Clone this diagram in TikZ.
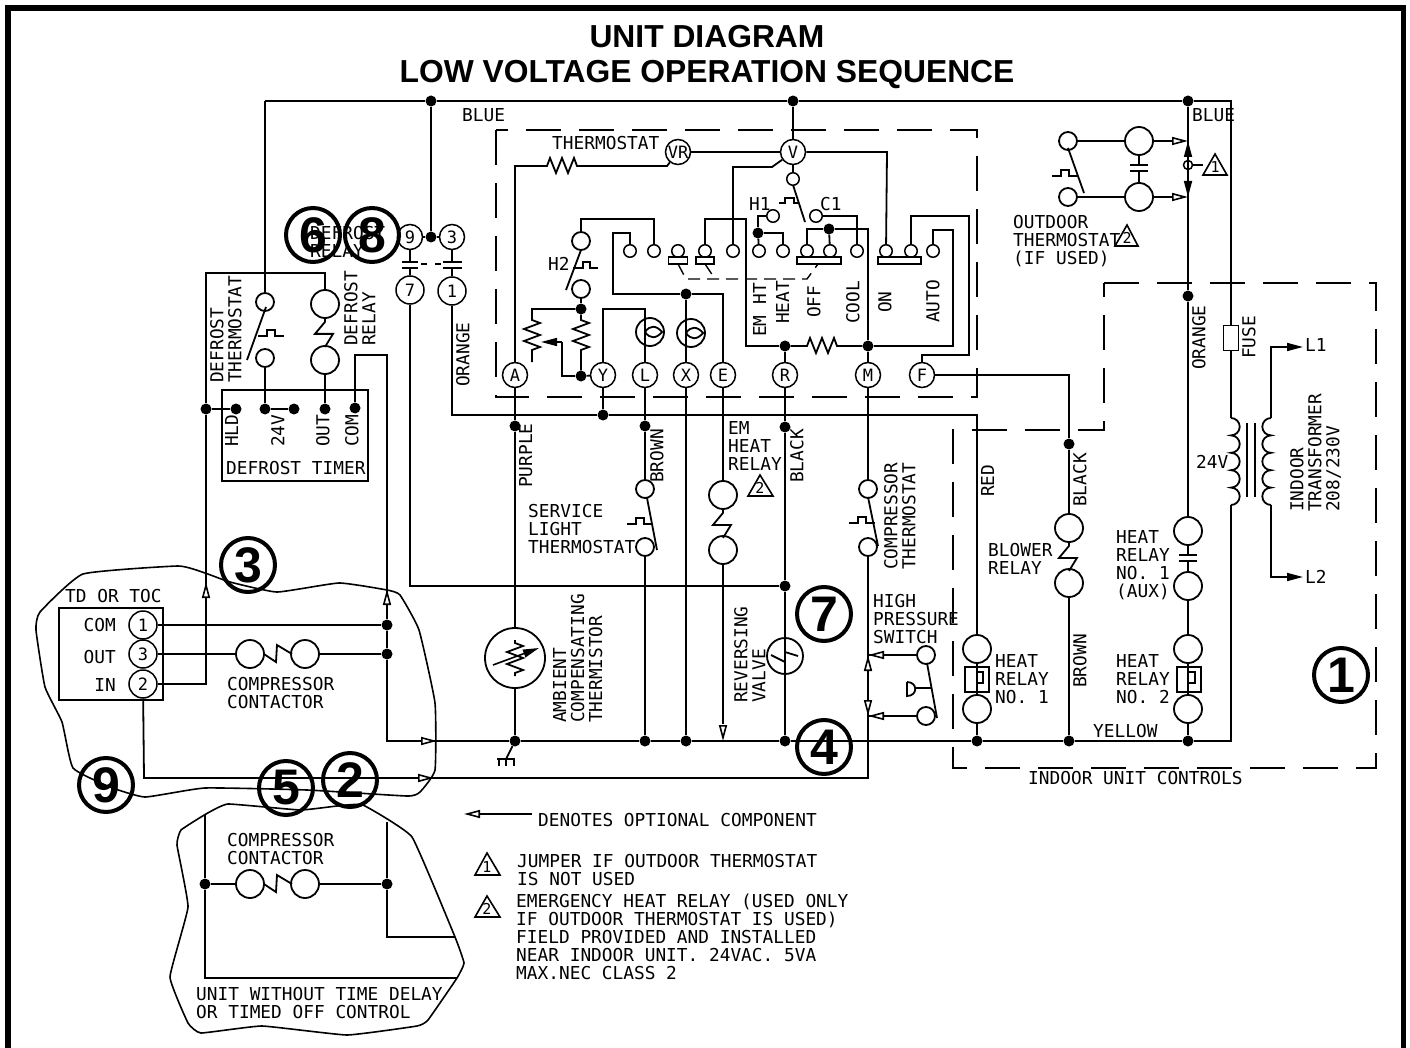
\documentclass[tikz,border=0pt]{standalone}
\usepackage{fontspec}
\usepackage{xcolor}
\usepackage{tikz}
\usetikzlibrary{arrows.meta}
\setmainfont{Liberation Sans}
\newfontfamily\cadfont{DejaVu Sans Mono}

\newcommand{\reszigh}{-- ++(3,-8) -- ++(6,15) -- ++(6,-15) -- ++(6,15) -- ++(6,-15) -- ++(3,8)}
\newcommand{\reszigv}{-- ++(8,3) -- ++(-16,6) -- ++(16,6) -- ++(-16,6) -- ++(16,6) -- ++(-8,3)}
\newcommand{\relayzig}{-- ++(0,3) -- ++(-10,12) -- ++(18,0) -- ++(-8,13)}
\newcommand{\thermstep}{-- ++(9,0) -- ++(0,-6) -- ++(8,0) -- ++(0,6) -- ++(9,0)}

\tikzset{
	wire/.style={line width=1.8pt},
	dashbox/.style={line width=1.6pt,dash pattern=on 35pt off 18pt},
	linkdash/.style={line width=1.4pt,dash pattern=on 12pt off 7pt},
	cloud/.style={line width=1.6pt},
	term/.style={circle,draw,line width=1.5pt,fill=white,minimum size=25pt,inner sep=0pt,font=\cadfont\fontsize{17}{17}\selectfont},
	coil/.style={circle,draw,line width=1.8pt,fill=white,minimum size=28pt,inner sep=0pt},
	contact/.style={circle,draw,line width=1.8pt,fill=white,minimum size=18pt,inner sep=0pt},
	small/.style={circle,draw,line width=1.5pt,fill=white,minimum size=12.5pt,inner sep=0pt},
	dot/.style={circle,fill=black,minimum size=11pt,inner sep=0pt},
	bar/.style={rectangle,draw,line width=1.6pt,fill=white,inner sep=0pt},
	lbl/.style={anchor=north west,align=left,inner sep=0pt,font=\cadfont\fontsize{17.8}{18}\selectfont},
	vlbl/.style={lbl,rotate=90},
	num/.style={circle,draw,line width=4pt,minimum size=54pt,inner sep=0pt,font=\bfseries\fontsize{50}{50}\selectfont},
	tridigit/.style={inner sep=0pt,font=\cadfont\fontsize{15}{15}\selectfont},
	opentip/.style={line width=1.6pt,-{Triangle[open,fill=white,length=16pt,width=8pt]}},
	solidtip/.style={line width=1.6pt,-{Triangle[length=16pt,width=8pt]}}
}

\begin{document}
\begin{tikzpicture}[x=1pt,y=-1pt]
	\useasboundingbox (0,0) rectangle (1410,1048);
	\draw[line width=5.4pt] (8,1048) -- (8,8) -- (1403.5,8) -- (1403.5,1048);
	\node[anchor=base,inner sep=0pt,font=\bfseries\fontsize{31.8}{32}\selectfont] (title1) at (707,48) {UNIT DIAGRAM};
	\node[anchor=base,inner sep=0pt,font=\bfseries\fontsize{31.8}{32}\selectfont] (title2) at (707,83) {LOW VOLTAGE OPERATION SEQUENCE};

	% dashed boxes
	\draw[dashbox] (496,130) rectangle (977,397);
	\draw[dashbox] (1104,283) -- (1376,283) -- (1376,768) -- (953,768) -- (953,430) -- (1104,430) -- cycle;

	% junctions
	\coordinate (cTL) at (265,101);
	\coordinate (cTR) at (1231,101);
	\node[dot] (dB1) at (431,101) {};
	\node[dot] (dB2) at (793,101) {};
	\node[dot] (dB3) at (1188,101) {};
	\node[dot] (dDef) at (431,237) {};
	\node[dot] (dOr) at (1188,296) {};
	\node[dot] (dBk) at (1069,444) {};
	\node[dot] (dHld) at (206,409) {};
	\node[dot] (dH) at (236,409) {};
	\node[dot] (d24a) at (265,409) {};
	\node[dot] (d24b) at (294,409) {};
	\node[dot] (dOut) at (325,409) {};
	\node[dot] (dCom) at (355,408) {};
	\node[dot] (dY) at (603,415) {};
	\node[dot] (dPu) at (515,426) {};
	\node[dot] (dLb) at (645,426) {};
	\node[dot] (dRb) at (785,427) {};
	\node[dot] (dRm) at (785,586) {};
	\node[dot] (dC1) at (387,625) {};
	\node[dot] (dC3) at (387,654) {};
	\node[dot] (dY1) at (515,741) {};
	\node[dot] (dY2) at (645,741) {};
	\node[dot] (dY3) at (686,741) {};
	\node[dot] (dY4) at (785,741) {};
	\node[dot] (dY5) at (977,741) {};
	\node[dot] (dY6) at (1069,741) {};
	\node[dot] (dY7) at (1188,741) {};
	\node[dot] (dX) at (686,294) {};
	\node[dot] (dH2) at (581,309) {};
	\node[dot] (dH3) at (581,376) {};
	\node[dot] (dHi) at (758,233) {};
	\node[dot] (dOff) at (829,229) {};
	\node[dot] (dR) at (785,346) {};
	\node[dot] (dM) at (868,346) {};
	\node[dot] (dW1) at (205,884) {};
	\node[dot] (dW2) at (387,884) {};

	% terminals
	\node[term] (tVR) at (678,152) {VR};
	\node[term] (tV) at (793,152) {V};
	\node[term] (tA) at (515,375) {A};
	\node[term] (tY) at (603,375) {Y};
	\node[term] (tL) at (645,375) {L};
	\node[term] (tX) at (686,375) {X};
	\node[term] (tE) at (723,375) {E};
	\node[term] (tR) at (785,375) {R};
	\node[term] (tM) at (868,375) {M};
	\node[term] (tF) at (922,375) {F};
	\node[term] (t9) at (410,237) {9};
	\node[term] (t3) at (452,237) {3};
	\node[term,minimum size=28pt] (t7) at (410,290) {7};
	\node[term,minimum size=28pt] (t1) at (452,291) {1};
	\node[term,minimum size=28pt] (tdCom) at (143,625) {1};
	\node[term,minimum size=28pt] (tdOut) at (143,654) {3};
	\node[term,minimum size=28pt] (tdIn) at (143,684) {2};

	% selector contacts
	\node[small] (sc1) at (630,251) {};
	\node[small] (sc2) at (654,251) {};
	\node[small] (sc3) at (678,251) {};
	\node[small] (sc4) at (705,251) {};
	\node[small] (sc5) at (733,251) {};
	\node[small] (sc6) at (759,251) {};
	\node[small] (sc7) at (783,251) {};
	\node[small] (sc8) at (807,251) {};
	\node[small] (sc9) at (830,251) {};
	\node[small] (sc10) at (857,251) {};
	\node[small] (sc11) at (886,251) {};
	\node[small] (sc12) at (911,251) {};
	\node[small] (sc13) at (933,251) {};
	\node[small] (scV) at (793,179) {};
	\node[small] (scH) at (773,216) {};
	\node[small] (scC) at (816,216) {};
	\node[bar,minimum width=19pt,minimum height=7pt] (bar1) at (678,260.5) {};
	\node[bar,minimum width=18pt,minimum height=7pt] (bar2) at (705,260.5) {};
	\node[bar,minimum width=44pt,minimum height=7pt] (bar3) at (819,260.5) {};
	\node[bar,minimum width=43pt,minimum height=7pt] (bar4) at (899.5,260.5) {};

	% coils and thermostat contacts
	\node[contact] (h2a) at (581,241) {};
	\node[contact] (h2b) at (581,289) {};
	\node[coil] (lampL) at (650,332) {};
	\node[coil] (lampX) at (691,333) {};
	\node[contact] (dtA) at (265,302) {};
	\node[contact] (dtB) at (265,358) {};
	\node[coil] (drA) at (325,304) {};
	\node[coil] (drB) at (325,360) {};
	\node[contact] (slA) at (645,489) {};
	\node[contact] (slB) at (645,547) {};
	\node[coil] (emA) at (723,495) {};
	\node[coil] (emB) at (723,550) {};
	\node[contact] (ctA) at (868,489) {};
	\node[contact] (ctB) at (868,547) {};
	\node[contact] (hpA) at (926,655) {};
	\node[contact] (hpB) at (926,716) {};
	\node[coil] (blA) at (1069,528) {};
	\node[coil] (blB) at (1069,583) {};
	\node[coil] (auxA) at (1188,531) {};
	\node[coil] (auxB) at (1188,586) {};
	\node[coil] (hr1A) at (977,649) {};
	\node[coil] (hr1B) at (977,709) {};
	\node[coil] (hr2A) at (1188,649) {};
	\node[coil] (hr2B) at (1188,709) {};
	\node[bar,minimum width=24pt,minimum height=25pt] (hr1Box) at (977,679.5) {};
	\node[bar,minimum width=24pt,minimum height=25pt] (hr2Box) at (1189,679.5) {};
	\node[contact] (otL1) at (1068,141) {};
	\node[contact] (otL2) at (1068,197) {};
	\node[coil] (otC1) at (1139,141) {};
	\node[coil] (otC2) at (1139,197) {};
	\node[circle,draw,line width=1.5pt,minimum size=9pt,inner sep=0pt] (jump) at (1188,165) {};
	\node[coil] (ccA) at (250,654) {};
	\node[coil] (ccB) at (305,654) {};
	\node[coil] (cwA) at (250,884) {};
	\node[coil] (cwB) at (305,884) {};
	\node[bar,minimum width=15pt,minimum height=25pt] (fuse) at (1231,338) {};
	\node[circle,draw,line width=1.8pt,minimum size=60pt,inner sep=0pt] (therm) at (515,658) {};
	\node[circle,draw,line width=1.8pt,minimum size=36pt,inner sep=0pt] (valve) at (785,656) {};

	% boxes
	\node[draw,line width=1.8pt,minimum width=146pt,minimum height=91pt,inner sep=0pt] (timer) at (295,435.5) {};
	\node[draw,line width=1.8pt,minimum width=104pt,minimum height=92pt,inner sep=0pt] (tdbox) at (111,654) {};

	% top wiring
	\draw[wire] (cTL) -- (dB1) -- (dB2) -- (dB3) -- (cTR) -- (fuse);
	\draw[wire] (cTL) -- (dtA);
	\draw[wire] (dB1) -- (dDef);
	\draw[wire] (t9) -- (dDef) -- (t3);
	\draw[wire] (dB2) -- (tV);
	\draw[wire] (dB3) -- (dOr) -- (auxA);

	% defrost
	\coordinate (cD1) at (206,273);
	\coordinate (cD2) at (325,273);
	\coordinate (cD3) at (206,684);
	\draw[wire] (drA) -- (cD2) -- (cD1) -- (dHld) -- (cD3) -- (tdIn);
	\draw[opentip] (206,597) -- (206,582);
	\draw[wire] (dtB) -- (d24a) -- (d24b);
	\draw[wire] (dHld) -- (dH);
	\draw[wire] (drB) -- (dOut);
	\draw[wire] (266,307) -- (247,360);
	\draw[wire] (258,336) \thermstep;
	\draw[wire] (drA.south) \relayzig;
	\coordinate (cC1) at (355,355);
	\coordinate (cC2) at (387,355);
	\coordinate (cC3) at (387,741);
	\draw[wire] (dCom) -- (cC1) -- (cC2) -- (dC1) -- (dC3) -- (cC3) -- (dY1);
	\draw[opentip] (387,604) -- (387,589);
	\draw[opentip] (421,741) -- (437,741);

	% contacts 9-7 and 3-1
	\coordinate (c97a) at (410,262);
	\coordinate (c97b) at (410,268);
	\coordinate (c31a) at (452,262);
	\coordinate (c31b) at (452,268);
	\draw[wire] (t9) -- (c97a);
	\draw[wire] (t7) -- (c97b);
	\draw[wire] (t3) -- (c31a);
	\draw[wire] (t1) -- (c31b);
	\draw[wire] (402,262) -- (418,262);
	\draw[wire] (402,268) -- (418,268);
	\draw[wire] (443,262) -- (462,262);
	\draw[wire] (443,268) -- (462,268);
	\draw[wire] (421,264) -- (427,264);
	\draw[wire] (435,264) -- (441,264);
	\coordinate (c7) at (410,586);
	\draw[wire] (t7) -- (c7) -- (dRm);
	\coordinate (c1a) at (452,415);
	\coordinate (c1b) at (977,415);
	\draw[wire] (t1) -- (c1a) -- (dY) -- (c1b) -- (hr1A);

	% thermostat
	\coordinate (cR1) at (547,166);
	\coordinate (cR3) at (667,166);
	\draw[wire] (tA) |- (cR1) \reszigh -- (cR3) -- (tVR);
	\draw[wire] (tVR) -- (tV);
	\coordinate (cV1) at (772,167);
	\coordinate (cV2) at (733,167);
	\draw[wire] (tV) -- (cV1) -- (cV2) -- (sc5);
	\draw[wire] (tV) -- (scV);
	\draw[wire] (793,185) -- (805,222);
	\draw[wire] (779,203) -- ++(6,0) -- ++(0,-5) -- ++(9,0) -- ++(0,5) -- ++(5,0);
	\coordinate (cV3) at (887,152);
	\draw[wire] (tV) -- (cV3) -- (sc11);
	\draw[wire] (scH) -| (dHi);
	\draw[wire] (dHi) -- (sc6);
	\coordinate (cH1) at (783,233);
	\draw[wire] (dHi) -- (cH1) -- (sc7);
	\coordinate (cE1) at (705,219);
	\coordinate (cE2) at (746,219);
	\coordinate (cE3) at (746,346);
	\draw[wire] (sc4) -- (cE1) -- (cE2) -- (cE3) -- (dR);
	\draw[wire] (dR) -- (807,346) \reszigh -- (dM);
	\draw[wire] (dR) -- (tR);
	\draw[wire] (dM) -- (tM);
	\coordinate (cM1) at (868,229);
	\coordinate (cM2) at (807,229);
	\draw[wire] (dM) -- (cM1) -- (dOff) -- (cM2) -- (sc8);
	\draw[wire] (dOff) -- (sc9);
	\coordinate (cC4) at (857,216);
	\draw[wire] (scC) -- (cC4) -- (sc10);
	\coordinate (cA1) at (953,346);
	\coordinate (cA2) at (953,230);
	\coordinate (cA3) at (933,230);
	\draw[wire] (dM) -- (cA1) -- (cA2) -- (cA3) -- (sc13);
	\coordinate (cF1) at (911,216);
	\coordinate (cF2) at (969,216);
	\coordinate (cF3) at (969,355);
	\coordinate (cF4) at (922,355);
	\draw[wire] (sc12) -- (cF1) -- (cF2) -- (cF3) -- (cF4) -- (tF);
	\coordinate (cF5) at (1069,375);
	\draw[wire] (tF) -- (cF5) -- (dBk) -- (blA);
	\draw[wire] (blA.south) \relayzig;
	\draw[wire] (blB) -- (dY6);
	\draw[linkdash] (678,264) -- (686,279) -- (807,279) -- (818,264);
	\draw[linkdash] (705,264) -- (715,279);

	% H2 section
	\coordinate (cS1) at (654,219);
	\coordinate (cS2) at (581,219);
	\draw[wire] (sc2) -- (cS1) -- (cS2) -- (h2a);
	\draw[wire] (581,250) -- (566,290);
	\draw[wire] (573,268) -- ++(10,0) -- ++(0,-6) -- ++(7,0) -- ++(0,6) -- ++(8,0);
	\draw[wire] (h2b) -- (dH2);
	\coordinate (cT1) at (630,233);
	\coordinate (cT2) at (613,233);
	\coordinate (cT3) at (613,294);
	\coordinate (cT4) at (723,294);
	\draw[wire] (sc1) -- (cT1) -- (cT2) -- (cT3) -- (dX) -- (cT4) -- (tE);
	\draw[wire] (dX) -- (tX);
	\coordinate (cP1) at (532,309);
	\coordinate (cP2) at (581,320);
	\draw[wire] (dH2) -- (cP1) -- (532,320) \reszigv -- (532,362);
	\draw[wire] (dH2) -- (cP2) \reszigv -- (dH3);
	\draw[wire] (dH3) -- (tY);
	\coordinate (cP3) at (562,376);
	\coordinate (cP4) at (562,342);
	\draw[wire] (dH3) -- (cP3) -- (cP4);
	\draw[solidtip] (cP4) -- (541,342);
	\coordinate (cY1) at (603,309);
	\coordinate (cY2) at (645,309);
	\draw[wire] (tY) -- (cY1) -- (cY2) -- (tL);
	\draw[wire] (tY) -- (dY);
	\draw[wire] (645,332) .. controls (650,325) and (656,325) .. (662,332) .. controls (656,339) and (650,339) .. (645,332);
	\draw[wire] (686,333) .. controls (691,326) and (697,326) .. (703,333) .. controls (697,340) and (691,340) .. (686,333);

	% below the thermostat
	\draw[wire] (tA) -- (dPu) -- (therm);
	\draw[wire] (therm) -- (dY1);
	\draw[wire] (515,640) -- (515,643) \reszigv -- (515,676);
	\draw[solidtip] (493,665) -- (539,648);
	\coordinate (cG1) at (506,759);
	\draw[wire] (dY1) -- (cG1);
	\draw[wire] (497,759) -- (515,759);
	\draw[wire] (499,759) -- (499,766);
	\draw[wire] (506,759) -- (506,766);
	\draw[wire] (514,759) -- (514,766);
	\draw[wire] (tL) -- (dLb) -- (slA);
	\draw[wire] (slB) -- (dY2);
	\draw[wire] (647,498) -- (657,550);
	\draw[wire] (627,524) \thermstep;
	\draw[wire] (tX) -- (dY3);
	\draw[wire] (tE) -- (emA);
	\draw[wire] (emA.south) \relayzig;
	\coordinate (cE4) at (723,741);
	\draw[wire] (emB) -- (723,724);
	\draw[opentip] (723,725) -- (cE4);
	\draw[wire] (tR) -- (dRb) -- (dRm) -- (valve) -- (dY4);
	\draw[wire] (771,655) -- (785,662) -- (785,652) -- (798,656);
	\draw[wire] (785,638) -- (785,674);
	\draw[wire] (tM) -- (ctA);
	\draw[wire] (868,497) -- (878,546);
	\draw[wire] (849,523) \thermstep;
	\coordinate (cM3) at (868,778);
	\coordinate (cM4) at (144,778);
	\draw[wire] (ctB) -- (cM3) -- (cM4) -- (tdIn);
	\draw[opentip] (418,778) -- (434,778);
	\draw[wire] (hpA) -- (868,655);
	\draw[wire] (hpB) -- (868,716);
	\draw[opentip] (885,655) -- (868,655);
	\draw[opentip] (885,716) -- (868,716);
	\draw[opentip] (868,673) -- (868,655);
	\draw[opentip] (868,698) -- (868,716);
	\draw[wire] (927,663) -- (937,718);
	\draw[wire] (915,688) -- (931,688);
	\draw[wire] (907,682) -- (907,696) .. controls (918,696) and (918,682) .. (907,682);

	% indoor unit
	\draw[wire] (hr1A) -- (hr1B);
	\draw[wire] (hr1B) -- (dY5);
	\draw[wire] (977,667) -- (977,672) -- (983,672) -- (983,683) -- (977,683) -- (977,692);
	\draw[wire] (1188,667) -- (1188,672) -- (1195,672) -- (1195,683) -- (1188,683) -- (1188,692);
	\draw[wire] (hr2A) -- (hr2B);
	\draw[wire] (hr2B) -- (dY7);
	\draw[wire] (auxB) -- (hr2A);
	\coordinate (cAx1) at (1188,555);
	\coordinate (cAx2) at (1188,561);
	\draw[wire] (auxA) -- (cAx1);
	\draw[wire] (auxB) -- (cAx2);
	\draw[wire] (1179,555) -- (1197,555);
	\draw[wire] (1179,561) -- (1197,561);
	\coordinate (cCoil1) at (1231,418);
	\coordinate (cCoil2) at (1231,505);
	\draw[wire] (fuse) -- (cCoil1);
	\draw[wire] (cCoil2) \foreach \k in {1,...,5} {arc[start angle=-90,end angle=90,radius=8.7pt]};
	\coordinate (cCoil3) at (1271,418);
	\coordinate (cCoil4) at (1271,505);
	\draw[wire] (cCoil4) \foreach \k in {1,...,5} {arc[start angle=-90,end angle=-270,radius=8.7pt]};
	\draw[wire] (1247,423) -- (1247,497);
	\draw[wire] (1255,423) -- (1255,497);
	\coordinate (cL1) at (1271,347);
	\coordinate (cL2) at (1271,577);
	\coordinate (cL1e) at (1303,347);
	\coordinate (cL2e) at (1303,577);
	\draw[wire] (cCoil3) -- (cL1) -- (1288,347);
	\draw[wire] (cCoil4) -- (cL2) -- (1288,577);
	\draw[solidtip] (1288,347) -- (cL1e);
	\draw[solidtip] (1288,577) -- (cL2e);
	\coordinate (cYe) at (1231,741);
	\draw[wire] (dY1) -- (dY2) -- (dY3) -- (dY4) -- (dY5) -- (dY6) -- (dY7) -- (cYe) -- (cCoil2);

	% outdoor thermostat
	\draw[wire] (otL1) -- (otC1);
	\draw[wire] (otL2) -- (otC2);
	\draw[wire] (otC1) -- (1173,141);
	\draw[wire] (otC2) -- (1173,197);
	\draw[opentip] (1172,141) -- (1188,141);
	\draw[opentip] (1172,197) -- (1188,197);
	\draw[solidtip] (1188,158) -- (1188,141);
	\draw[solidtip] (1188,180) -- (1188,197);
	\draw[wire] (1068,148) -- (1084,193);
	\draw[wire] (1052,176) \thermstep;
	\coordinate (cOt1) at (1139,165);
	\coordinate (cOt2) at (1139,171);
	\draw[wire] (otC1) -- (cOt1);
	\draw[wire] (otC2) -- (cOt2);
	\draw[wire] (1130,165) -- (1148,165);
	\draw[wire] (1130,171) -- (1148,171);
	\coordinate (cTri1) at (1203,165);
	\draw[wire] (jump) -- (cTri1);
	\draw[line width=1.6pt] (1215,154) -- (1227,175) -- (1203,175) -- cycle;
	\node[tridigit] (n1a) at (1215,167) {1};
	\draw[line width=1.6pt] (1127,225) -- (1138,246) -- (1115,246) -- cycle;
	\node[tridigit] (n2a) at (1127,238) {2};

	% TD or TOC
	\draw[wire] (tdCom) -- (dC1);
	\draw[wire] (tdOut) -- (ccA);
	\draw[wire] (ccB) -- (dC3);
	\draw[wire] (264,654) -- (276,662) -- (277,645) -- (292,654);
	\draw[cloud] plot[smooth cycle,tension=0.25] coordinates {(83,574) (178,566) (205,573) (230,582) (277,592) (339,583) (387,590) (400,595) (419,630) (435,703) (435,770) (420,792) (407,796) (307,790) (205,788) (145,797) (110,787) (73,768) (62,722) (45,687) (36,630) (40,612)};

	% without time delay
	\coordinate (cW1) at (205,814);
	\coordinate (cW2) at (205,978);
	\coordinate (cW3) at (457,978);
	\coordinate (cW4) at (387,822);
	\coordinate (cW5) at (387,937);
	\coordinate (cW6) at (455,937);
	\draw[wire] (cW1) -- (dW1) -- (cW2) -- (cW3);
	\draw[wire] (cW4) -- (dW2) -- (cW5) -- (cW6);
	\draw[wire] (dW1) -- (cwA);
	\draw[wire] (cwB) -- (dW2);
	\draw[wire] (264,884) -- (276,892) -- (277,875) -- (292,884);
	\draw[cloud] plot[smooth cycle,tension=0.2] coordinates {(228,804) (206,814) (181,830) (177,845) (188,907) (170,977) (188,1023) (201,1033) (262,1026) (347,1035) (417,1026) (428,1020) (457,978) (464,963) (455,937) (412,837) (363,805) (337,806) (300,810)};

	% legend
	\draw[opentip] (532,814) -- (464,814);
	\draw[line width=1.6pt] (487,853) -- (500,875) -- (475,875) -- cycle;
	\node[tridigit] (n1b) at (487,867) {1};
	\draw[line width=1.6pt] (487,896) -- (500,917) -- (475,917) -- cycle;
	\node[tridigit] (n2b) at (487,909) {2};
	\draw[line width=1.6pt] (760,475) -- (773,496) -- (748,496) -- cycle;
	\node[tridigit] (n2c) at (760,488) {2};

	% labels
	\node[lbl] (lBlue1) at (462,108) {BLUE};
	\node[lbl] (lBlue2) at (1192,108) {BLUE};
	\node[lbl] (lThermo) at (552,136) {THERMOSTAT};
	\node[lbl] (lHi) at (749,197) {H1};
	\node[lbl] (lCi) at (820,197) {C1};
	\node[lbl] (lH2) at (548,257) {H2};
	\node[lbl] (lDefRel) at (310,226) {DEFROST\\RELAY};
	\node[lbl] (lOutdoor) at (1013,215) {OUTDOOR\\THERMOSTAT\\(IF USED)};
	\node[vlbl] (lDefTh) at (210,383) {DEFROST\\THERMOSTAT};
	\node[vlbl] (lDefR2) at (344,346) {DEFROST\\RELAY};
	\node[vlbl] (lHld) at (225,447) {HLD};
	\node[vlbl] (l24) at (271,447) {24V};
	\node[vlbl] (lOut) at (316,447) {OUT};
	\node[vlbl] (lCom) at (345,447) {COM};
	\node[lbl] (lTimer) at (226,461) {DEFROST TIMER};
	\node[vlbl] (lOrange) at (456,387) {ORANGE};
	\node[vlbl] (lEm) at (753,337) {EM HT};
	\node[vlbl] (lHeat) at (776,324) {HEAT};
	\node[vlbl] (lOff) at (807,318) {OFF};
	\node[vlbl] (lCool) at (846,324) {COOL};
	\node[vlbl] (lOn) at (878,313) {ON};
	\node[vlbl] (lAuto) at (926,323) {AUTO};
	\node[vlbl] (lPurple) at (519,488) {PURPLE};
	\node[vlbl] (lBrown) at (650,483) {BROWN};
	\node[lbl] (lService) at (528,504) {SERVICE\\LIGHT\\THERMOSTAT};
	\node[lbl] (lEmHeat) at (728,421) {EM\\HEAT\\RELAY};
	\node[vlbl] (lBlack1) at (790,483) {BLACK};
	\node[vlbl] (lCompTh) at (884,570) {COMPRESSOR\\THERMOSTAT};
	\node[lbl] (lHigh) at (873,594) {HIGH\\PRESSURE\\SWITCH};
	\node[vlbl] (lAmb) at (553,723) {AMBIENT\\COMPENSATING\\THERMISTOR};
	\node[vlbl] (lRev) at (734,703) {REVERSING\\VALVE};
	\node[vlbl] (lRed) at (981,497) {RED};
	\node[vlbl] (lBlack2) at (1073,507) {BLACK};
	\node[vlbl] (lBrown2) at (1073,688) {BROWN};
	\node[lbl] (lBlower) at (988,543) {BLOWER\\RELAY};
	\node[lbl] (lAux) at (1116,530) {HEAT\\RELAY\\NO. 1\\(AUX)};
	\node[lbl] (lHr1) at (995,654) {HEAT\\RELAY\\NO. 1};
	\node[lbl] (lHr2) at (1116,654) {HEAT\\RELAY\\NO. 2};
	\node[lbl] (lYellow) at (1093,724) {YELLOW};
	\node[lbl] (lIndoor) at (1028,771) {INDOOR UNIT CONTROLS};
	\node[vlbl] (lOrange2) at (1192,370) {ORANGE};
	\node[vlbl] (lFuse) at (1242,359) {FUSE};
	\node[lbl] (l24v) at (1196,455) {24V};
	\node[vlbl] (lTrans) at (1290,512) {INDOOR\\TRANSFORMER\\208/230V};
	\node[lbl] (lL1) at (1305,338) {L1};
	\node[lbl] (lL2) at (1305,570) {L2};
	\node[lbl] (lTd) at (65,589) {TD OR TOC};
	\node[lbl,anchor=north east] (lC) at (116,618) {COM};
	\node[lbl,anchor=north east] (lO) at (116,650) {OUT};
	\node[lbl,anchor=north east] (lI) at (116,678) {IN};
	\node[lbl] (lCc1) at (227,677) {COMPRESSOR\\CONTACTOR};
	\node[lbl] (lCc2) at (227,833) {COMPRESSOR\\CONTACTOR};
	\node[lbl] (lUnit) at (196,987) {UNIT WITHOUT TIME DELAY\\OR TIMED OFF CONTROL};
	\node[lbl] (lDen) at (538,813) {DENOTES OPTIONAL COMPONENT};
	\node[lbl] (lJump) at (517,854) {JUMPER IF OUTDOOR THERMOSTAT\\IS NOT USED};
	\node[lbl] (lEmer) at (516,894) {EMERGENCY HEAT RELAY (USED ONLY\\IF OUTDOOR THERMOSTAT IS USED)\\FIELD PROVIDED AND INSTALLED\\NEAR INDOOR UNIT. 24VAC. 5VA\\MAX.NEC CLASS 2};

	% numbered circles
	\node[num] (no1) at (1341,675) {1};
	\node[num] (no2) at (350,780) {2};
	\node[num] (no3) at (248,565) {3};
	\node[num] (no4) at (824,747) {4};
	\node[num] (no5) at (286,788) {5};
	\node[num] (no6) at (313,235) {6};
	\node[num] (no7) at (824,614) {7};
	\node[num] (no8) at (372,235) {8};
	\node[num] (no9) at (106,785) {9};
\end{tikzpicture}
\end{document}
